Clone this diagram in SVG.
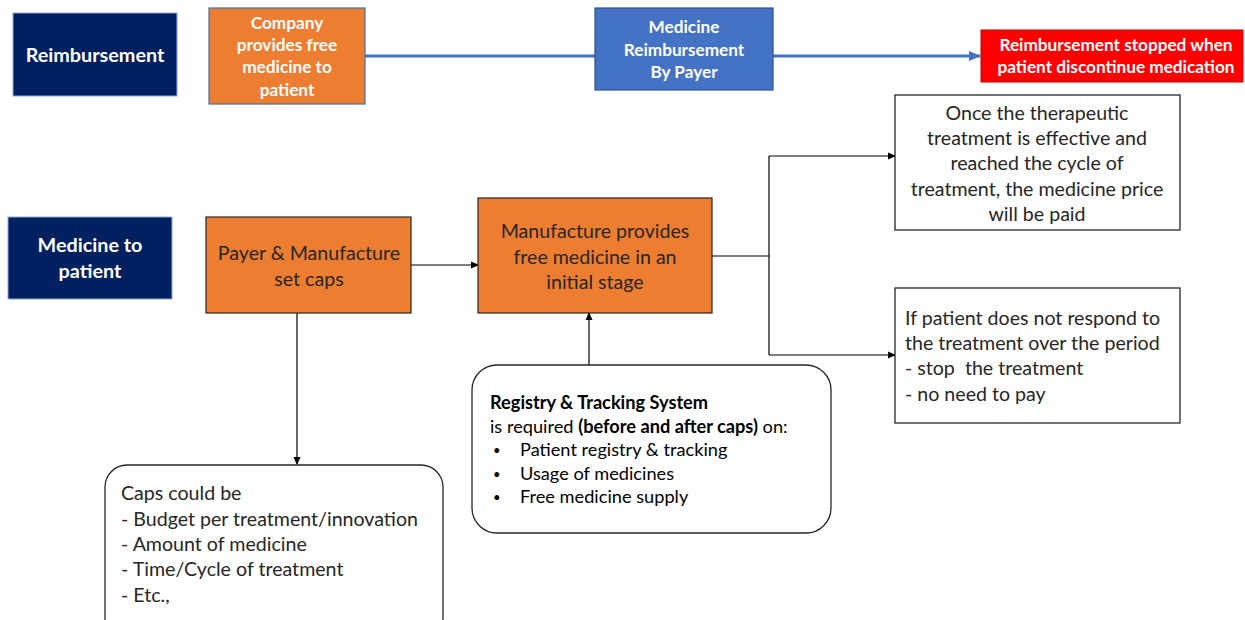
<svg xmlns="http://www.w3.org/2000/svg" width="1245" height="620" viewBox="0 0 1245 620">
  <style>
    text { font-family: Lato, "Open Sans", "Liberation Sans", sans-serif; }
    .hdr { fill: #002060; stroke: #8FAADC; stroke-width: 1; }
    .org { fill: #ED7D31; stroke: #41719C; stroke-width: 1.2; }
    .org2 { fill: #ED7D31; stroke: #262626; stroke-width: 1.2; }
    .blu { fill: #4472C4; stroke: #2F528F; stroke-width: 1.2; }
    .red { fill: #FF0000; stroke: #C00000; stroke-width: 1; }
    .note { fill: #FFFFFF; stroke: #262626; stroke-width: 1.3; }
    .wb { fill: #FFFFFF; font-weight: bold; font-size: 17.2px; text-anchor: middle; }
    .wbl { fill: #FFFFFF; font-weight: bold; font-size: 19.8px; text-anchor: middle; }
    .dk { fill: #262626; font-size: 19.6px; }
    .dkm { fill: #262626; font-size: 19.6px; text-anchor: middle; }
    .sm { fill: #000000; font-size: 18.2px; }
    .bu { fill: #000000; font-size: 13px; }
    .ln { fill: none; stroke: #000000; stroke-width: 1.2; }
    .bl { fill: none; stroke: #4472C4; stroke-width: 3; }
  </style>
  <defs>
    <marker id="ah" markerWidth="8" markerHeight="8" refX="7" refY="4" orient="auto" markerUnits="userSpaceOnUse">
      <path d="M0,0.5 L8,4 L0,7.5 Z" fill="#000000"/>
    </marker>
    <marker id="ahb" markerWidth="12" markerHeight="12" refX="11" refY="6" orient="auto" markerUnits="userSpaceOnUse">
      <path d="M0,1 L12,6 L0,11 Z" fill="#4472C4"/>
    </marker>
  </defs>

  <rect width="1245" height="620" fill="#FFFFFF"/>

  <!-- connectors -->
  <g id="connectors">
    <line class="bl" x1="365" y1="56" x2="595" y2="56"/>
    <line class="bl" x1="773" y1="56" x2="980" y2="56" marker-end="url(#ahb)"/>
    <line class="ln" x1="411" y1="265" x2="478" y2="265" marker-end="url(#ah)"/>
    <polyline class="ln" points="712,256 769,256"/>
    <polyline class="ln" points="769,156 769,355"/>
    <line class="ln" x1="769" y1="156" x2="895" y2="156" marker-end="url(#ah)"/>
    <line class="ln" x1="769" y1="355" x2="895" y2="355" marker-end="url(#ah)"/>
    <line class="ln" x1="297" y1="313" x2="297" y2="464" marker-end="url(#ah)"/>
    <line class="ln" x1="589" y1="365" x2="589" y2="313" marker-end="url(#ah)"/>
  </g>

  <!-- Row 1: reimbursement -->
  <g id="reimbursement-label">
    <rect class="hdr" x="13" y="13" width="164" height="83"/>
    <text class="wbl" x="95" y="62">Reimbursement</text>
  </g>
  <g id="company-free">
    <rect class="org" x="209" y="8" width="156" height="96"/>
    <text class="wb" x="287" y="29">Company</text>
    <text class="wb" x="287" y="51">provides free</text>
    <text class="wb" x="287" y="73">medicine to</text>
    <text class="wb" x="287" y="96">patient</text>
  </g>
  <g id="payer-reimbursement">
    <rect class="blu" x="595" y="8" width="178" height="82"/>
    <text class="wb" x="684" y="33">Medicine</text>
    <text class="wb" x="684" y="56">Reimbursement</text>
    <text class="wb" x="684" y="78">By Payer</text>
  </g>
  <g id="reimbursement-stopped">
    <rect class="red" x="981" y="30" width="262" height="52"/>
    <text class="wb" x="1116" y="51">Reimbursement stopped when</text>
    <text class="wb" x="1116" y="73">patient discontinue medication</text>
  </g>

  <!-- Row 2: medicine to patient -->
  <g id="medicine-label">
    <rect class="hdr" x="8" y="217" width="164" height="82"/>
    <text class="wbl" x="90" y="252">Medicine to</text>
    <text class="wbl" x="90" y="278">patient</text>
  </g>
  <g id="set-caps">
    <rect class="org2" x="206" y="217" width="205" height="96"/>
    <text class="dkm" x="309" y="260">Payer &amp; Manufacture</text>
    <text class="dkm" x="309" y="286">set caps</text>
  </g>
  <g id="initial-stage">
    <rect class="org2" x="478" y="198" width="234" height="115"/>
    <text class="dkm" x="595" y="238">Manufacture provides</text>
    <text class="dkm" x="595" y="264">free medicine in an</text>
    <text class="dkm" x="595" y="289">initial stage</text>
  </g>
  <g id="effective-outcome">
    <rect class="note" x="895" y="95" width="285" height="135"/>
    <text class="dkm" x="1037" y="120">Once the therapeutic</text>
    <text class="dkm" x="1037" y="145">treatment is effective and</text>
    <text class="dkm" x="1037" y="170">reached the cycle of</text>
    <text class="dkm" x="1037" y="196">treatment, the medicine price</text>
    <text class="dkm" x="1037" y="221">will be paid</text>
  </g>
  <g id="no-response-outcome">
    <rect class="note" x="895" y="288" width="285" height="135"/>
    <text class="dk" x="905" y="325">If patient does not respond to</text>
    <text class="dk" x="905" y="350">the treatment over the period</text>
    <text class="dk" x="905" y="375" xml:space="preserve">- stop  the treatment</text>
    <text class="dk" x="905" y="401">- no need to pay</text>
  </g>
  <g id="caps-list">
    <rect class="note" x="105" y="465" width="338" height="175" rx="22" ry="22"/>
    <text class="dk" x="121" y="500">Caps could be</text>
    <text class="dk" x="121" y="526">- Budget per treatment/innovation</text>
    <text class="dk" x="121" y="551">- Amount of medicine</text>
    <text class="dk" x="121" y="576">- Time/Cycle of treatment</text>
    <text class="dk" x="121" y="602">- Etc.,</text>
  </g>
  <g id="registry-tracking">
    <rect class="note" x="472" y="365" width="359" height="168" rx="25" ry="25"/>
    <text class="sm" x="490" y="409" font-weight="bold">Registry &amp; Tracking System</text>
    <text class="sm" x="490" y="433">is required <tspan font-weight="bold">(before and after caps)</tspan> on:</text>
    <text class="bu" x="493" y="455">•</text>
    <text class="sm" x="520" y="456">Patient registry &amp; tracking</text>
    <text class="bu" x="493" y="479">•</text>
    <text class="sm" x="520" y="480">Usage of medicines</text>
    <text class="bu" x="493" y="502">•</text>
    <text class="sm" x="520" y="503">Free medicine supply</text>
  </g>
</svg>
